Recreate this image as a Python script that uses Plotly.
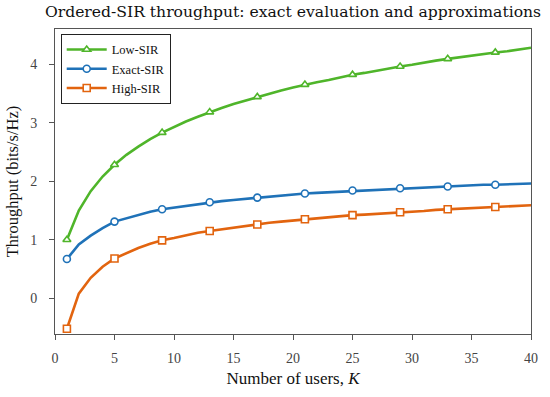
import plotly.graph_objects as go

K = list(range(1, 41))
marker_K = [1, 5, 9, 13, 17, 21, 25, 29, 33, 37]

low_sir = [1.00, 1.50, 1.83, 2.08, 2.28, 2.45, 2.59, 2.72, 2.83, 2.93,
           3.02, 3.10, 3.18, 3.25, 3.32, 3.38, 3.44, 3.50, 3.55, 3.60,
           3.65, 3.69, 3.73, 3.78, 3.82, 3.85, 3.89, 3.93, 3.96, 3.99,
           4.03, 4.06, 4.09, 4.12, 4.14, 4.17, 4.20, 4.22, 4.25, 4.28]
exact_sir = [0.67, 0.92, 1.07, 1.20, 1.31, 1.37, 1.43, 1.48, 1.52, 1.55,
             1.58, 1.61, 1.64, 1.66, 1.68, 1.70, 1.72, 1.74, 1.76, 1.77,
             1.79, 1.80, 1.81, 1.83, 1.84, 1.85, 1.86, 1.87, 1.88, 1.89,
             1.90, 1.91, 1.91, 1.92, 1.93, 1.94, 1.94, 1.95, 1.96, 1.96]
high_sir = [-0.52, 0.08, 0.35, 0.54, 0.68, 0.77, 0.86, 0.93, 0.99, 1.03,
            1.08, 1.12, 1.15, 1.18, 1.21, 1.24, 1.26, 1.29, 1.31, 1.33,
            1.35, 1.36, 1.38, 1.40, 1.42, 1.43, 1.44, 1.46, 1.47, 1.48,
            1.49, 1.51, 1.52, 1.53, 1.54, 1.55, 1.56, 1.57, 1.58, 1.59]

series = [
    ("Low-SIR", low_sir, "#4fb52a", "triangle-up"),
    ("Exact-SIR", exact_sir, "#1f72b8", "circle"),
    ("High-SIR", high_sir, "#e2640f", "square"),
]

SERIF = "Liberation Serif, Times New Roman, serif"

fig = go.Figure()
for name, vals, color, sym in series:
    fig.add_trace(go.Scatter(x=K, y=vals, mode="lines", showlegend=False,
                             line=dict(color=color, width=2.6)))
    mx = [k for k in K if k in marker_K]
    my = [v for k, v in zip(K, vals) if k in marker_K]
    mk = dict(symbol=sym, size=7, color="white", line=dict(color=color, width=1.6))
    fig.add_trace(go.Scatter(x=mx, y=my, mode="markers", showlegend=False, marker=mk))
    # legend entry
    fig.add_trace(go.Scatter(x=[None], y=[None], mode="lines+markers", name=name,
                             line=dict(color=color, width=2.6), marker=mk))

fig.update_layout(
    width=550, height=397,
    margin=dict(l=53, r=12, t=29, b=56),
    paper_bgcolor="white", plot_bgcolor="white",
    hovermode=False,
    title=dict(text="Ordered-SIR throughput: exact evaluation and approximations",
               xref="paper", x=0.5, xanchor="center",
               yref="container", y=1 - 12 / 397, yanchor="middle",
               font=dict(family="DejaVu Serif", size=15.6, color="#111")),
    font=dict(family=SERIF, color="#222"),
    legend=dict(x=0.012, y=0.984, xanchor="left", yanchor="top",
                bgcolor="white", bordercolor="#222", borderwidth=1,
                font=dict(family=SERIF, size=12.5, color="#111"),
                tracegroupgap=0, itemwidth=40),
    xaxis=dict(range=[0, 40], tickvals=[0, 5, 10, 15, 20, 25, 30, 35, 40],
               ticks="outside", ticklen=5, tickcolor="#555",
               showline=True, linecolor="#555", linewidth=1, mirror=True,
               showgrid=False, zeroline=False, ticklabelstandoff=6,
               tickfont=dict(family=SERIF, size=14, color="#444"),
               title=dict(text="Number of users, <i>K</i>",
                          font=dict(family=SERIF, size=17, color="#111"),
                          standoff=7)),
    yaxis=dict(range=[-0.61, 4.6], tickvals=[0, 1, 2, 3, 4],
               ticks="outside", ticklen=5, tickcolor="#555",
               showline=True, linecolor="#555", linewidth=1, mirror=True,
               showgrid=False, zeroline=False, ticklabelstandoff=9,
               tickfont=dict(family=SERIF, size=14, color="#444"),
               title=dict(text="Throughput (bits/s/Hz)",
                          font=dict(family=SERIF, size=16.5, color="#111"),
                          standoff=7)),
)

fig.write_html("out.html",
               config={"displayModeBar": False},
               post_script="document.body.style.margin='0';document.body.style.overflow='hidden';")
